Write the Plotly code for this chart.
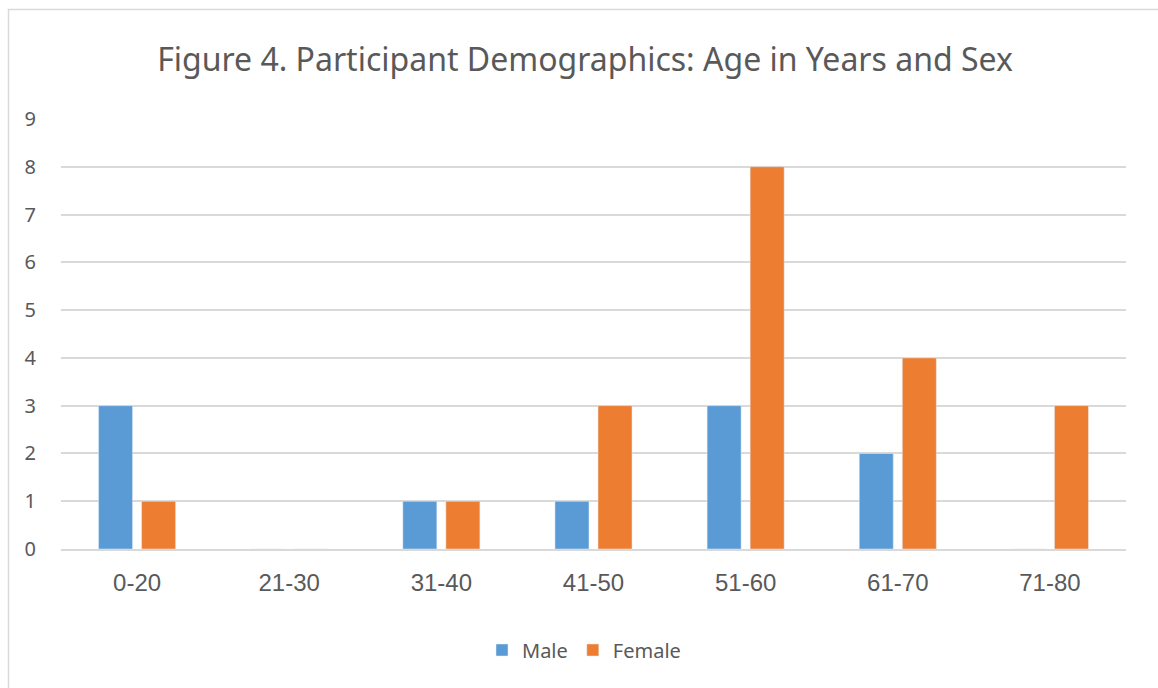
import plotly.graph_objects as go

categories = ["0-20", "21-30", "31-40", "41-50", "51-60", "61-70", "71-80"]
male = [3, 0, 1, 1, 3, 2, 0]
female = [1, 0, 1, 3, 8, 4, 3]
y_ticks = list(range(0, 10))

W, H = 1158, 688
L, R, T, B = 61, 32, 119, 139
pw = W - L - R
ph = H - T - B

fig = go.Figure()
fig.add_trace(go.Bar(name="Male", x=categories, y=male, marker=dict(color="#5b9bd5")))
fig.add_trace(go.Bar(name="Female", x=categories, y=female, marker=dict(color="#ed7d31")))

def px_x(p):
    return (p - L) / pw

def px_y(p):
    return (H - B - p) / ph

fig.update_layout(
    width=W, height=H,
    margin=dict(l=L, r=R, t=T, b=B),
    paper_bgcolor="white", plot_bgcolor="white",
    barmode="group", bargap=0.434, bargroupgap=0.21,
    title=dict(text="Figure 4. Participant Demographics: Age in Years and Sex",
               x=px_x(585), xanchor="center", xref="paper", y=1 - 60 / H, yanchor="middle",
               font=dict(family="Noto Sans", size=32, color="#595959")),
    xaxis=dict(showgrid=False, showline=True, linecolor="#d9d9d9", linewidth=1.5,
               tickfont=dict(family="Liberation Sans", size=24, color="#595959"),
               ticks="outside", ticklen=11, tickcolor="rgba(0,0,0,0)"),
    yaxis=dict(range=[0, 9], tickvals=y_ticks, showgrid=True, gridcolor="#d9d9d9", gridwidth=1.5,
               zeroline=False, showline=False,
               tickfont=dict(family="Noto Sans", size=20, color="#595959"),
               ticks="outside", ticklen=20, tickcolor="rgba(0,0,0,0)"),
    legend=dict(orientation="h", x=px_x(584), xanchor="center", y=px_y(650), yanchor="middle",
                font=dict(family="Noto Sans", size=20, color="#595959"),
                itemwidth=30, traceorder="normal"),
    shapes=[
        dict(type="rect", xref="paper", yref="paper",
             x0=px_x(8.5), x1=px_x(1200), y0=px_y(720), y1=px_y(9.5),
             line=dict(color="#d9d9d9", width=1.5), layer="below"),
    ],
)

fig.write_html("out.html", config={"displayModeBar": False},
               post_script="document.body.style.margin='0';")
